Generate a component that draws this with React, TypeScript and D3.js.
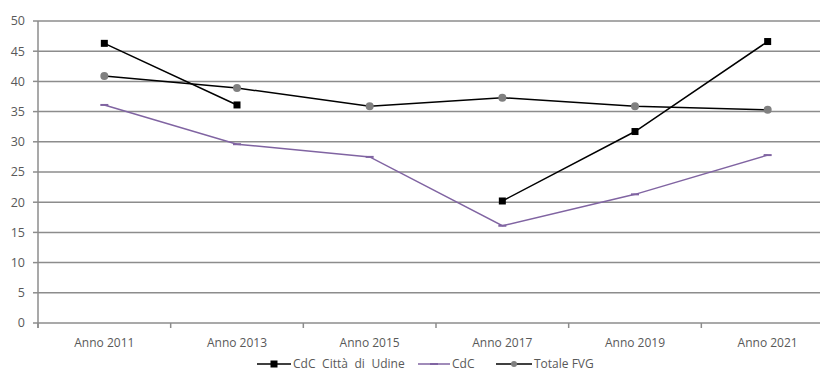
import React from "react";
import * as d3 from "d3";

// Categories and series values
const categories = ["Anno 2011", "Anno 2013", "Anno 2015", "Anno 2017", "Anno 2019", "Anno 2021"];
const udine: (number | null)[] = [46.3, 36.1, null, 20.2, 31.7, 46.6];
const cdc: number[] = [36.1, 29.6, 27.5, 16.1, 21.3, 27.8];
const totaleFvg: number[] = [40.9, 38.9, 35.9, 37.3, 35.9, 35.3];
const yTicks = [0, 5, 10, 15, 20, 25, 30, 35, 40, 45, 50];

const W = 820;
const H = 380;
const M = { left: 38, right: -14, top: 21, bottom: 57 };

const GRID = "#8c8c8c";
const TEXT = "#595959";
const PURPLE = "#8064a2";
const FONT = "'Open Sans', 'DejaVu Sans', sans-serif";

export default function App() {
  const x = d3
    .scaleBand<string>()
    .domain(categories)
    .range([M.left, W - M.right])
    .paddingInner(0)
    .paddingOuter(0);
  const y = d3.scaleLinear().domain([0, 50]).range([H - M.bottom, M.top]);
  const cx = (c: string) => (x(c) as number) + x.bandwidth() / 2;

  const line = d3
    .line<number | null>()
    .defined((d) => d !== null)
    .x((_, i) => cx(categories[i]))
    .y((d) => y(d as number));

  const y0 = y(0);
  const tickXs = categories.map((c) => x(c) as number).concat([W - M.right]);
  const ly = 364;

  return (
    <svg width={W} height={H} style={{ position: "absolute", left: 0, top: 0, fontFamily: FONT }}>
      <rect width={W} height={H} fill="#fff" />
      {/* horizontal gridlines and y ticks */}
      {yTicks.map((t) => (
        <g key={t}>
          <line x1={M.left} x2={W} y1={y(t)} y2={y(t)} stroke={GRID} strokeWidth={1.5} />
          <line x1={M.left - 5} x2={M.left} y1={y(t)} y2={y(t)} stroke={GRID} strokeWidth={1.5} />
          <text x={M.left - 13} y={y(t)} dy="0.35em" textAnchor="end" fontSize={12.5} fill={TEXT}>
            {t}
          </text>
        </g>
      ))}
      {/* y axis */}
      <line x1={M.left} x2={M.left} y1={M.top} y2={y0 + 5} stroke={GRID} strokeWidth={1.5} />
      {/* x axis ticks and labels */}
      {tickXs.map((tx, i) => (
        <line key={i} x1={tx} x2={tx} y1={y0} y2={y0 + 5} stroke={GRID} strokeWidth={1.5} />
      ))}
      {categories.map((c) => (
        <text key={c} x={cx(c)} y={y0 + 19.5} dy="0.35em" textAnchor="middle" fontSize={12} fill={TEXT}>
          {c}
        </text>
      ))}

      {/* CdC */}
      <path d={line(cdc) || ""} fill="none" stroke={PURPLE} strokeWidth={1.5} />
      {cdc.map((v, i) => (
        <rect key={i} x={cx(categories[i]) - 4} y={y(v) - 1} width={8} height={2} fill={PURPLE} />
      ))}

      {/* Totale FVG */}
      <path d={line(totaleFvg) || ""} fill="none" stroke="#000" strokeWidth={1.5} />
      {totaleFvg.map((v, i) => (
        <circle key={i} cx={cx(categories[i])} cy={y(v)} r={4} fill="#808080" />
      ))}

      {/* CdC Città di Udine */}
      <path d={line(udine) || ""} fill="none" stroke="#000" strokeWidth={1.5} />
      {udine.map((v, i) =>
        v === null ? null : (
          <rect key={i} x={cx(categories[i]) - 3.5} y={y(v) - 3.5} width={7} height={7} fill="#000" />
        )
      )}

      {/* legend */}
      <g fontSize={12} fill={TEXT}>
        <line x1={257} x2={291} y1={ly} y2={ly} stroke="#000" strokeWidth={1.5} />
        <rect x={270.5} y={ly - 3.5} width={7} height={7} fill="#000" />
        <text x={293} y={ly} dy="0.35em" wordSpacing={3.5}>CdC Città di Udine</text>

        <line x1={418} x2={450} y1={ly} y2={ly} stroke={PURPLE} strokeWidth={1.5} />
        <rect x={430} y={ly - 1} width={8} height={2} fill={PURPLE} />
        <text x={452} y={ly} dy="0.35em">CdC</text>

        <line x1={496} x2={532} y1={ly} y2={ly} stroke="#000" strokeWidth={1.5} />
        <circle cx={514} cy={ly} r={3} fill="#808080" />
        <text x={534} y={ly} dy="0.35em">Totale FVG</text>
      </g>
    </svg>
  );
}
